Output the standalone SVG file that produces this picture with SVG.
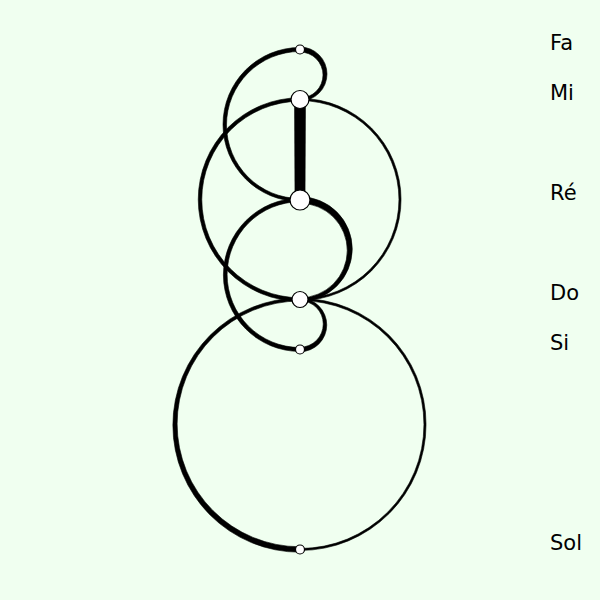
<svg xmlns="http://www.w3.org/2000/svg" width="600" height="600" viewBox="0 0 600 600">
<style>
.link{fill:#000;stroke:#000;stroke-width:0.6;stroke-linejoin:round}
.node circle{fill:#fff;stroke:#000;stroke-width:1.2}
.node text{font-family:"DejaVu Sans",Verdana,sans-serif;font-size:21px;fill:#000}
</style>
<rect width="600" height="600" fill="#f0fff0"/>
<g id="links">
<path class="link" d="M300,47 A27,27 0 0 1 300,101 L300,98 A23,23 0 0 0 300,52 Z"/>
<path class="link" d="M300,47.5 A77,77 0 0 0 300,201.5 L300,198.5 A73.5,73.5 0 0 1 300,51.5 Z"/>
<path class="link" d="M294.5,99.5 L305.5,99.5 L305,200 L295,200 Z"/>
<path class="link" d="M300,97.75 A101.75,101.75 0 0 0 300,301.25 L300,297.75 A98.25,98.25 0 0 1 300,101.25 Z"/>
<path class="link" d="M300,98.4 A101.05,101.05 0 0 1 300,300.5 L300,298.5 A98.95,98.95 0 0 0 300,100.6 Z"/>
<path class="link" d="M300,196.75 A52.25,52.25 0 0 1 300,301.25 L300,297.75 A47.25,47.25 0 0 0 300,203.25 Z"/>
<path class="link" d="M300,198.25 A76.625,76.625 0 0 0 300,351.5 L300,347.5 A72.875,72.875 0 0 1 300,201.75 Z"/>
<path class="link" d="M300,298.25 A26.75,26.75 0 0 1 300,351.75 L300,347.25 A23.25,23.25 0 0 0 300,300.75 Z"/>
<path class="link" d="M300,298 A127.125,127.125 0 0 0 300,552.25 L300,546.75 A122.875,122.875 0 0 1 300,301 Z"/>
<path class="link" d="M300,298.4 A126.05,126.05 0 0 1 300,550.5 L300,548.5 A123.95,123.95 0 0 0 300,300.6 Z"/>
</g>
<g id="node-fa" class="node"><circle cx="300" cy="49.5" r="4.5"/><text x="550" y="50">Fa</text></g>
<g id="node-mi" class="node"><circle cx="300" cy="99.5" r="9"/><text x="550" y="100">Mi</text></g>
<g id="node-re" class="node"><circle cx="300" cy="200" r="10"/><text x="550" y="200">Ré</text></g>
<g id="node-do" class="node"><circle cx="300" cy="299.5" r="8"/><text x="550" y="300">Do</text></g>
<g id="node-si" class="node"><circle cx="300" cy="349.5" r="4.5"/><text x="550" y="350">Si</text></g>
<g id="node-sol" class="node"><circle cx="300" cy="549.5" r="4.5"/><text x="550" y="550">Sol</text></g>
</svg>
